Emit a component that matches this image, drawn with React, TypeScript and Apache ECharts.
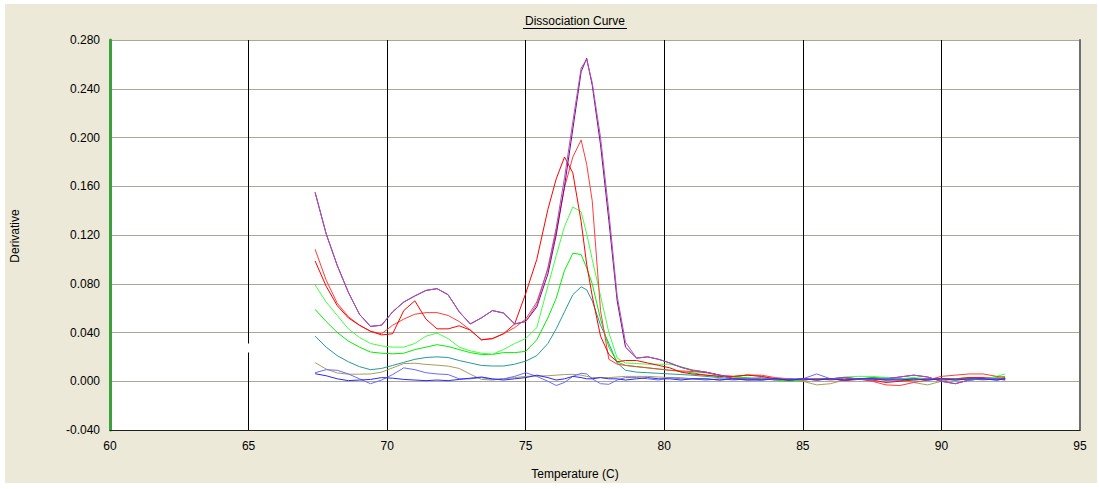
import { useEffect, useRef } from "react";
import * as echarts from "echarts";

// Temperature grid (°C)
const temps = [67.4, 67.8, 68.2, 68.6, 69.0, 69.4, 69.8, 70.2, 70.6, 71.0, 71.4, 71.8, 72.2, 72.6, 73.0, 73.4, 73.8, 74.2, 74.6, 75.0, 75.4, 75.8, 76.1, 76.4, 76.7, 77.0, 77.2, 77.4, 77.7, 78.0, 78.3, 78.6, 79.0, 79.4, 79.8, 80.2, 80.6, 81.0, 81.5, 82.0, 82.5, 83.0, 83.5, 84.0, 84.5, 85.0, 85.5, 86.0, 86.5, 87.0, 87.5, 88.0, 88.5, 89.0, 89.5, 90.0, 90.5, 91.0, 91.5, 92.0, 92.3];

const xTicks = [60, 65, 70, 75, 80, 85, 90, 95];
const yTicks = [-0.04, 0.0, 0.04, 0.08, 0.12, 0.16, 0.2, 0.24, 0.28];

const purpleLight = [0.155, 0.121, 0.095, 0.073, 0.055, 0.045, 0.046, 0.057, 0.065, 0.070, 0.0745, 0.076, 0.071, 0.057, 0.047, 0.052, 0.058, 0.056, 0.047, 0.049, 0.063, 0.093, 0.126, 0.167, 0.213, 0.257, 0.264, 0.245, 0.200, 0.139, 0.070, 0.032, 0.019, 0.020, 0.018, 0.015, 0.0115, 0.009, 0.0075, 0.005, 0.002, 0.002, 0.0015, 0.002, 0.001, 0.002, 0.0015, 0.002, 0.003, 0.002, 0.0025, 0.002, 0.0035, 0.005, 0.0035, 0.000, -0.002, 0.001, 0.002, 0.002, 0.002];
const purpleDark = [0.155, 0.121, 0.095, 0.073, 0.055, 0.045, 0.046, 0.057, 0.065, 0.070, 0.0745, 0.076, 0.071, 0.057, 0.047, 0.052, 0.058, 0.056, 0.047, 0.049, 0.061, 0.088, 0.120, 0.160, 0.207, 0.254, 0.265, 0.243, 0.194, 0.132, 0.066, 0.028, 0.019, 0.020, 0.018, 0.015, 0.0115, 0.009, 0.0075, 0.005, 0.002, 0.002, 0.0015, 0.002, 0.001, 0.002, 0.0015, 0.002, 0.003, 0.002, 0.0025, 0.002, 0.0035, 0.005, 0.0035, 0.000, -0.002, 0.001, 0.002, 0.002, 0.002];
const redA = [0.0987, 0.078, 0.062, 0.052, 0.046, 0.041, 0.038, 0.039, 0.058, 0.066, 0.051, 0.043, 0.043, 0.0455, 0.042, 0.034, 0.035, 0.039, 0.047, 0.072, 0.100, 0.141, 0.166, 0.184, 0.171, 0.131, 0.096, 0.070, 0.037, 0.022, 0.016, 0.017, 0.017, 0.015, 0.013, 0.011, 0.0075, 0.006, 0.005, 0.004, 0.004, 0.005, 0.004, 0.002, 0.001, 0.002, 0.001, 0.002, 0.0005, 0.0015, 0.001, -0.001, 0.000, 0.001, 0.002, 0.002, 0.002, 0.003, 0.003, 0.002, 0.002];
const redB = [0.1083, 0.083, 0.064, 0.053, 0.046, 0.041, 0.039, 0.046, 0.051, 0.055, 0.0563, 0.0563, 0.054, 0.049, 0.042, 0.034, 0.035, 0.039, 0.044, 0.051, 0.065, 0.092, 0.123, 0.159, 0.184, 0.198, 0.178, 0.148, 0.058, 0.018, 0.014, 0.013, 0.012, 0.011, 0.010, 0.009, 0.0085, 0.008, 0.007, 0.005, 0.004, 0.005, 0.005, 0.003, 0.002, 0.001, 0.002, 0.001, 0.002, 0.002, 0.000, -0.003, -0.0035, -0.001, 0.001, 0.004, 0.005, 0.006, 0.006, 0.004, 0.003];
const green1 = [0.079, 0.065, 0.054, 0.043, 0.036, 0.031, 0.029, 0.028, 0.028, 0.031, 0.037, 0.0395, 0.035, 0.028, 0.025, 0.023, 0.0222, 0.026, 0.031, 0.035, 0.044, 0.078, 0.103, 0.127, 0.143, 0.139, 0.121, 0.100, 0.070, 0.040, 0.019, 0.015, 0.0145, 0.014, 0.014, 0.014, 0.012, 0.0095, 0.0075, 0.005, 0.003, 0.0055, 0.004, 0.002, 0.0015, 0.001, 0.002, 0.0015, 0.0035, 0.004, 0.004, 0.003, 0.002, 0.003, 0.002, 0.002, 0.001, 0.002, 0.002, 0.004, 0.006];
const green2 = [0.059, 0.049, 0.040, 0.033, 0.028, 0.024, 0.023, 0.0225, 0.023, 0.026, 0.028, 0.030, 0.0285, 0.026, 0.0235, 0.022, 0.022, 0.0235, 0.0235, 0.0245, 0.034, 0.052, 0.068, 0.091, 0.105, 0.104, 0.093, 0.080, 0.051, 0.028, 0.016, 0.013, 0.012, 0.011, 0.010, 0.009, 0.008, 0.007, 0.005, 0.004, 0.003, 0.003, 0.002, 0.001, 0.000, 0.001, 0.002, 0.002, 0.003, 0.002, 0.003, 0.003, 0.002, 0.0025, 0.0015, 0.002, 0.002, 0.003, 0.002, 0.003, 0.004];
const teal = [0.037, 0.028, 0.021, 0.016, 0.012, 0.0095, 0.0105, 0.013, 0.0155, 0.018, 0.0195, 0.020, 0.0195, 0.017, 0.015, 0.013, 0.0125, 0.0125, 0.014, 0.0165, 0.021, 0.031, 0.043, 0.057, 0.071, 0.0775, 0.075, 0.066, 0.046, 0.031, 0.015, 0.009, 0.0075, 0.007, 0.0065, 0.006, 0.0055, 0.005, 0.004, 0.003, 0.002, 0.002, 0.001, 0.002, 0.002, 0.001, 0.002, 0.002, 0.001, 0.002, 0.002, 0.001, 0.002, 0.002, 0.001, 0.002, 0.001, 0.002, 0.002, 0.001, 0.002];
const olive = [0.0153, 0.010, 0.0068, 0.0058, 0.0058, 0.006, 0.0075, 0.011, 0.0145, 0.0148, 0.0138, 0.0132, 0.0124, 0.0105, 0.0058, 0.0015, 0.001, 0.002, 0.003, 0.004, 0.0043, 0.0045, 0.005, 0.0055, 0.0057, 0.005, 0.004, 0.003, 0.003, 0.003, 0.0035, 0.004, 0.004, 0.004, 0.0035, 0.003, 0.003, 0.002, 0.002, 0.001, 0.002, 0.001, 0.002, 0.0015, 0.001, 0.000, -0.003, -0.002, 0.001, 0.002, 0.001, 0.002, 0.001, -0.001, -0.003, 0.000, 0.002, 0.002, 0.001, 0.002, 0.001];
const blueA = [0.007, 0.0095, 0.009, 0.006, 0.002, -0.002, 0.001, 0.0055, 0.011, 0.0095, 0.007, 0.006, 0.0055, 0.002, 0.002, 0.003, 0.0015, 0.002, 0.004, 0.007, 0.004, 0.000, -0.0035, -0.001, 0.004, 0.0065, 0.006, 0.002, -0.002, -0.0025, 0.001, 0.003, 0.003, 0.002, 0.001, 0.003, 0.002, 0.002, 0.001, 0.002, 0.001, 0.002, 0.003, 0.001, 0.002, 0.002, 0.006, 0.002, 0.001, 0.002, 0.001, 0.002, 0.002, 0.001, 0.002, 0.001, 0.002, 0.001, 0.002, 0.002, 0.001];
const blueB = [0.0062, 0.0045, 0.002, 0.0005, 0.001, 0.0015, 0.003, 0.0025, 0.0015, 0.001, 0.0005, 0.001, 0.0005, 0.0015, 0.0025, 0.0035, 0.002, 0.001, 0.002, 0.003, 0.005, 0.003, 0.001, 0.002, 0.004, 0.003, 0.002, 0.002, 0.003, 0.002, 0.002, 0.001, 0.002, 0.003, 0.002, 0.002, 0.001, 0.002, 0.002, 0.001, 0.002, 0.001, 0.001, 0.002, 0.001, 0.002, 0.001, 0.002, 0.001, 0.002, 0.002, 0.001, 0.001, 0.002, 0.001, 0.002, 0.001, 0.002, 0.002, 0.001, 0.002];

const seriesList = [
  { name: "olive", data: olive, color: "#A89C5C" },
  { name: "teal", data: teal, color: "#259A9A" },
  { name: "green2", data: green2, color: "#00F000" },
  { name: "green1", data: green1, color: "#40FF40" },
  { name: "redB", data: redB, color: "#FF3C3C" },
  { name: "redA", data: redA, color: "#FF0000" },
  { name: "purpleDark", data: purpleDark, color: "#800080" },
  { name: "purpleLight", data: purpleLight, color: "#A855B8" },
  { name: "blueA", data: blueA, color: "#6A6AFF" },
  { name: "blueB", data: blueB, color: "#2A2AF0" },
];

export default function App() {
  const ref = useRef<HTMLDivElement>(null);

  useEffect(() => {
    if (!ref.current) return;
    const chart = echarts.init(ref.current, null, { renderer: "svg" });
    const font = "'Liberation Sans', Arial, sans-serif";
    chart.setOption({
      animation: false,
      backgroundColor: "#ECE9D8",
      textStyle: { fontFamily: font },
      grid: {
        left: 105,
        right: 17,
        top: 36,
        bottom: 53,
        show: true,
        backgroundColor: "#FFFFFF",
        borderWidth: 0,
      },
      xAxis: [
        {
          type: "value",
          min: xTicks[0],
          max: xTicks[xTicks.length - 1],
          interval: 5,
          axisLine: { show: true, onZero: false, lineStyle: { color: "#222222", width: 1 } },
          axisTick: { show: false },
          axisLabel: { color: "#000", fontSize: 12, fontFamily: font, margin: 10 },
          splitLine: {
            show: true,
            showMinLine: false,
            showMaxLine: false,
            lineStyle: { color: "#000000", width: 1 },
          },
        },
      ],
      yAxis: [
        {
          type: "value",
          min: yTicks[0],
          max: yTicks[yTicks.length - 1],
          interval: 0.04,
          axisLine: { show: true, onZero: false, lineStyle: { color: "#3CA03C", width: 3 } },
          axisTick: { show: false },
          axisLabel: {
            color: "#000",
            fontSize: 12,
            fontFamily: font,
            margin: 10,
            formatter: (v: number) => v.toFixed(3),
          },
          splitLine: {
            show: true,
            showMinLine: false,
            lineStyle: { color: "#ACA899", width: 1 },
          },
        },
        {
          type: "value",
          position: "right",
          min: yTicks[0],
          max: yTicks[yTicks.length - 1],
          interval: 0.04,
          axisLine: { show: true, onZero: false, lineStyle: { color: "#6E6E6E", width: 2 } },
          axisTick: { show: false },
          axisLabel: { show: false },
          splitLine: { show: false },
        },
      ],
      graphic: [
        {
          type: "text",
          x: 570,
          y: 17,
          style: {
            text: "Dissociation Curve",
            fill: "#000",
            fontSize: 12,
            fontFamily: font,
            align: "center",
            verticalAlign: "middle",
          },
        },
        {
          type: "line",
          shape: { x1: 518, y1: 24.5, x2: 622, y2: 24.5 },
          style: { stroke: "#000", lineWidth: 1 },
        },
        {
          type: "text",
          x: 10,
          y: 232,
          rotation: Math.PI / 2,
          style: {
            text: "Derivative",
            fill: "#000",
            fontSize: 12,
            fontFamily: font,
            align: "center",
            verticalAlign: "middle",
          },
        },
        {
          type: "text",
          x: 570,
          y: 470,
          style: {
            text: "Temperature (C)",
            fill: "#000",
            fontSize: 12,
            fontFamily: font,
            align: "center",
            verticalAlign: "middle",
          },
        },
        {
          type: "rect",
          z: 100,
          shape: { x: 241.5, y: 339.5, width: 4, height: 9 },
          style: { fill: "#FFFFFF" },
        },
      ],
      series: seriesList.map((s) => ({
        name: s.name,
        type: "line",
        data: temps.map((t, i) => [t, s.data[i]]),
        showSymbol: false,
        symbol: "none",
        silent: true,
        lineStyle: { color: s.color, width: 1 },
        itemStyle: { color: s.color },
      })),
    });
    return () => chart.dispose();
  }, []);

  return (
    <div
      style={{
        position: "fixed",
        left: 0,
        top: 0,
        width: 1099,
        height: 489,
        background: "#FFFFFF",
      }}
    >
      <div
        ref={ref}
        style={{ position: "absolute", left: 5, top: 4, width: 1092, height: 479 }}
      />
    </div>
  );
}
